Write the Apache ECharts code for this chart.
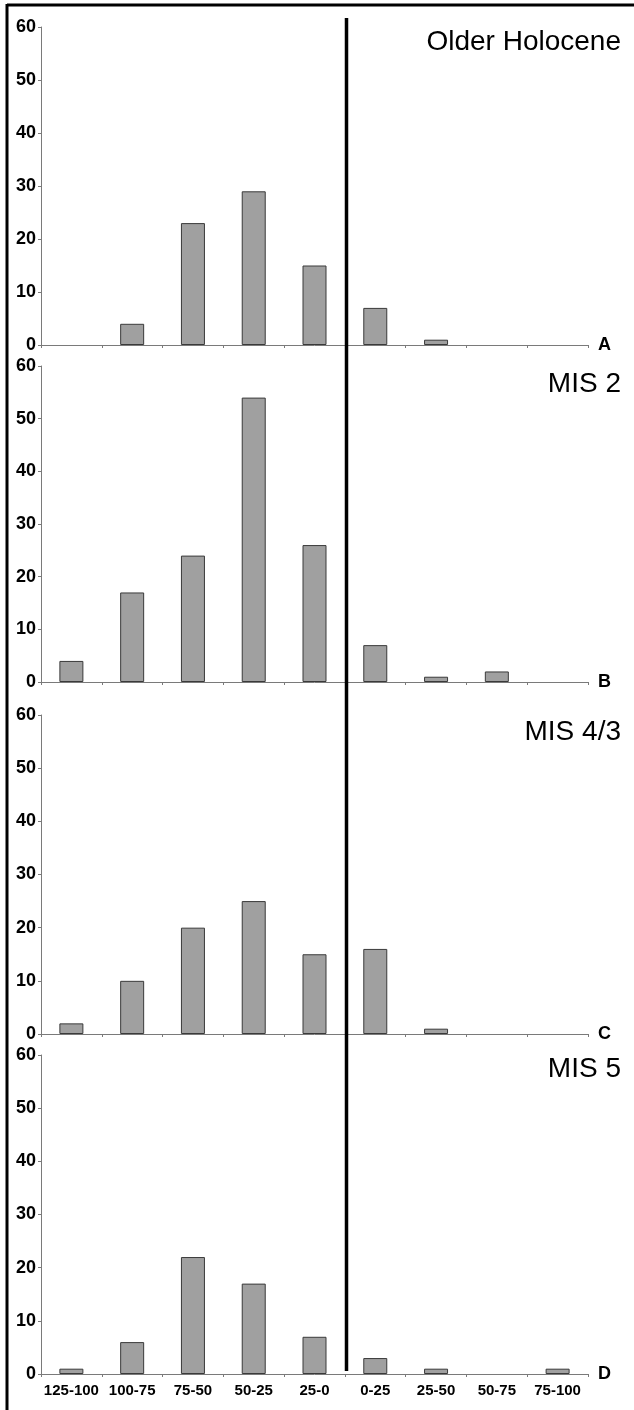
<!DOCTYPE html>
<html>
<head>
<meta charset="utf-8">
<script src="https://cdn.jsdelivr.net/npm/echarts@6/dist/echarts.min.js"></script>
<style>
html,body{margin:0;padding:0;background:#fff;}
#c{width:634px;height:1410px;}
</style>
</head>
<body>
<div id="c"></div>
<script>
const categories = ['125-100','100-75','75-50','50-25','25-0','0-25','25-50','50-75','75-100'];
const panelTitles = ['Older Holocene','MIS 2','MIS 4/3','MIS 5'];
const panelLetters = ['A','B','C','D'];
const olderHolocene = [0, 4, 23, 29, 15, 7, 1, 0, 0];
const mis2 = [4, 17, 24, 54, 26, 7, 1, 2, 0];
const mis43 = [2, 10, 20, 25, 15, 16, 1, 0, 0];
const mis5 = [1, 6, 22, 17, 7, 3, 1, 0, 1];
const seriesData = [olderHolocene, mis2, mis43, mis5];
const yMin = 0, yMax = 60, yInterval = 10;

const FONT = "'Liberation Sans', Arial, sans-serif";
const gridTops = [27, 366, 715, 1055];
const gridBottoms = [345, 682, 1034, 1374];
const titleTops = [23, 365, 713, 1050];

const chart = echarts.init(document.getElementById('c'), null, {renderer: 'canvas'});

const grids = [], xAxes = [], yAxes = [], series = [], titles = [];
for (let i = 0; i < 4; i++) {
  grids.push({left: 41, right: 46, top: gridTops[i], height: gridBottoms[i] - gridTops[i], containLabel: false});
  xAxes.push({
    type: 'category', gridIndex: i, data: categories,
    boundaryGap: true,
    axisLine: {lineStyle: {color: '#7a7a7a', width: 1}},
    axisTick: {show: true, length: 3, interval: 0, lineStyle: {color: '#7a7a7a'}},
    axisLabel: {show: i === 3, interval: 0, color: '#000', fontFamily: FONT, fontWeight: 'bold', fontSize: 15, margin: 9},
    name: panelLetters[i], nameLocation: 'end', nameGap: 10,
    nameTextStyle: {color: '#000', fontFamily: FONT, fontWeight: 'bold', fontSize: 18, verticalAlign: 'middle'},
    splitLine: {show: false}
  });
  yAxes.push({
    type: 'value', gridIndex: i, min: yMin, max: yMax, interval: yInterval,
    axisLine: {show: true, lineStyle: {color: '#7a7a7a', width: 1}},
    axisTick: {show: true, length: 3, lineStyle: {color: '#7a7a7a'}},
    axisLabel: {color: '#000', fontFamily: FONT, fontWeight: 'bold', fontSize: 18, margin: 5},
    splitLine: {show: false}
  });
  series.push({
    type: 'bar', xAxisIndex: i, yAxisIndex: i,
    data: seriesData[i].map(v => (v === 0 ? '-' : v)),
    barWidth: 24,
    itemStyle: {color: '#a0a0a0', borderColor: '#3a3a3a', borderWidth: 1},
    silent: true, animation: false
  });
  titles.push({
    text: panelTitles[i], right: 8, top: titleTops[i],
    textStyle: {fontFamily: FONT, fontWeight: 'normal', fontSize: 28, color: '#000', lineHeight: 28}
  });
}

chart.setOption({
  animation: false,
  backgroundColor: '#fff',
  title: titles,
  grid: grids,
  xAxis: xAxes,
  yAxis: yAxes,
  series: series
});

// separator between "25-0" and "0-25" derived from the category scale
const p4 = chart.convertToPixel({xAxisIndex: 0}, categories[4]);
const p5 = chart.convertToPixel({xAxisIndex: 0}, categories[5]);
const sepX = Math.round((p4 + p5) / 2) + 1.5;

chart.setOption({
  graphic: [
    {type: 'line', shape: {x1: 7, y1: 5, x2: 634, y2: 5}, style: {stroke: '#000', lineWidth: 3}},
    {type: 'line', shape: {x1: 7, y1: 4, x2: 7, y2: 1410}, style: {stroke: '#000', lineWidth: 3}},
    {type: 'line', shape: {x1: sepX, y1: 18, x2: sepX, y2: 1371}, style: {stroke: '#000', lineWidth: 3.5}, z: 100}
  ]
});
</script>
</body>
</html>
